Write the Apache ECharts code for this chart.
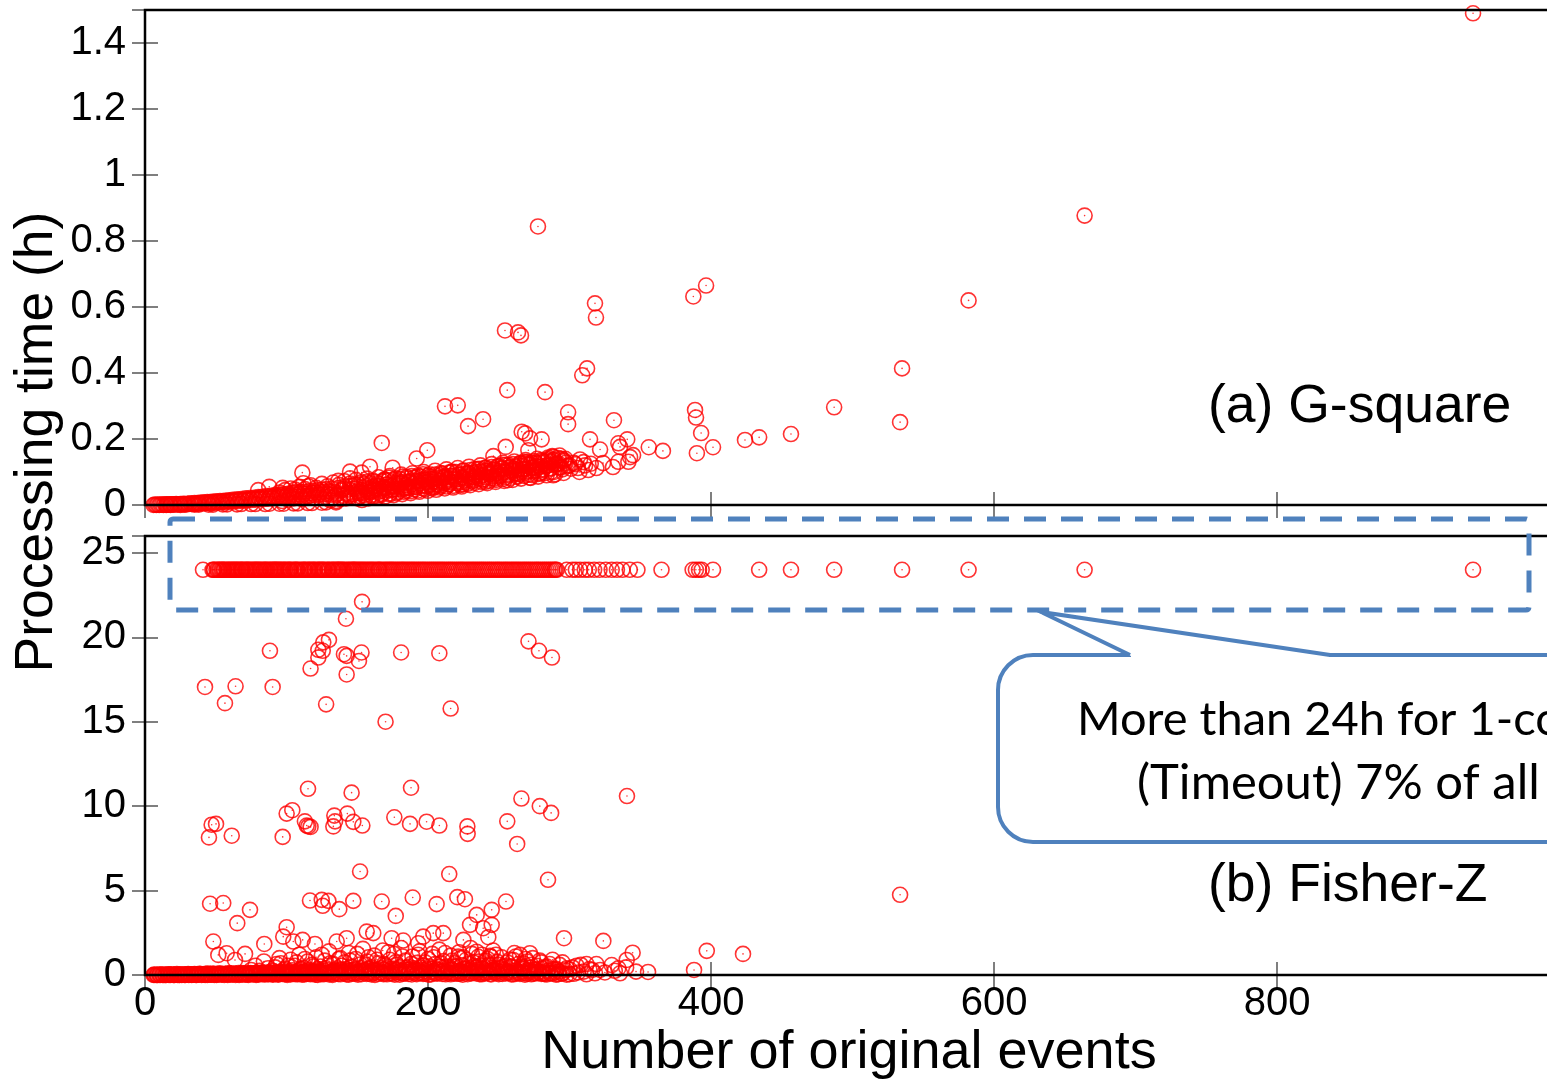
<!DOCTYPE html>
<html>
<head>
<meta charset="utf-8">
<script src="https://cdn.jsdelivr.net/npm/echarts@6/dist/echarts.min.js"></script>
<style>
html,body{margin:0;padding:0;background:#fff;}
#chart{width:1547px;height:1080px;}
</style>
</head>
<body>
<div id="chart"></div>
<script>
// ---------------- DATA ----------------
const xTicks = [0, 200, 400, 600, 800];
const gsqYTicks = [0, 0.2, 0.4, 0.6, 0.8, 1, 1.2, 1.4];
const fzYTicks = [0, 5, 10, 15, 20, 25];

// (a) G-square : processing time (h) vs number of original events
const gsqLowRow = [
[6,0],[7,0.001],[8,0],[9,0.001],[10,0],[11,0.001],[12,0.001],[13,0],[14,0.002],[15,0.001],[16,0.001],[17,0.002],[18,0.001],[19,0.002],[20,0.002],[21,0.001],[22,0.003],[23,0.002],[24,0.002],[25,0.003],[26,0.002],[27,0.004],[28,0.003],[29,0.002],[30,0.004],[31,0.003],[32,0.005],[33,0.003],[34,0.004],[35,0.006],[36,0.004],[37,0.005],[38,0.007],[39,0.004],[40,0.006],[41,0.008],[42,0.005],[43,0.007],[44,0.009],[45,0.006],[46,0.008],[47,0.01],[48,0.006],[49,0.009],[50,0.011],[51,0.007],[52,0.01],[53,0.012],[54,0.008],[55,0.011],[56,0.013],[57,0.009],[58,0.012],[59,0.014],[60,0.01],[61,0.013],[62,0.016],[63,0.011],[64,0.014],[65,0.017],[66,0.012],[67,0.015],[68,0.018],[69,0.013],[70,0.016],[71,0.02],[72,0.014],[73,0.017],[74,0.021],[75,0.015],[76,0.019],[77,0.022],[78,0.016],[79,0.02],[80,0.024],[81,0.017],[82,0.021],[83,0.025],[84,0.018],[85,0.022],[86,0.027],[87,0.019],[88,0.024],[89,0.028],[90,0.02],[91,0.025],[92,0.03],[93,0.021],[94,0.026],[95,0.031],[96,0.022],[97,0.027],[98,0.033],[99,0.023],[100,0.029],[101,0.034],[102,0.024],[103,0.03],[104,0.036],[105,0.025],[106,0.031],[107,0.037],[108,0.026],[109,0.033],[110,0.039],[111,0.027],[112,0.034],[113,0.04],[114,0.028],[115,0.035],[116,0.042],[117,0.029],[118,0.036],[119,0.043],[120,0.03],[121,0.038],[122,0.045],[123,0.031],[124,0.039],[125,0.046],[126,0.032],[127,0.04],[128,0.048],[129,0.033],[130,0.042],
[15,0],[25,0],[35,0.001],[45,0.001],[55,0.002],[65,0.002],[75,0.003],[85,0.003],[95,0.004],[105,0.005],[115,0.006],[125,0.007],[135,0.008],[18,0],[28,0.001],[38,0.001],[48,0.001],[58,0.002],[68,0.003],[78,0.003],[88,0.004],[98,0.004],[108,0.005],[118,0.006],[128,0.008]
];
const gsqBand = [
[131,0.014],[131.5,0.031],[132,0.05],[133,0.022],[134,0.04],[135,0.012],[136,0.034],[137,0.052],[138,0.018],[139,0.043],[140,0.028],[141,0.056],[142,0.02],[143,0.037],[144,0.047],[145,0.025],[146,0.058],[147,0.033],[148,0.022],[149,0.05],[150,0.041],[151,0.062],[152,0.027],[153,0.045],[154,0.036],[155,0.064],[156,0.024],[157,0.05],[158,0.04],[159,0.066],[160,0.03],[161,0.055],[162,0.045],[163,0.07],[164,0.028],[165,0.058],[166,0.048],[167,0.034],[168,0.072],[169,0.052],[170,0.04],[171,0.062],[172,0.075],[173,0.032],[174,0.056],[175,0.046],[176,0.077],[177,0.066],[178,0.036],[179,0.058],[180,0.079],[181,0.048],[182,0.068],[183,0.04],[184,0.06],[185,0.081],[186,0.052],[187,0.072],[188,0.042],[189,0.063],[190,0.083],[191,0.055],[192,0.074],[193,0.044],[194,0.066],[195,0.086],[196,0.058],[197,0.077],[198,0.047],[199,0.068],[200,0.089],[201,0.06],[202,0.08],[203,0.05],[204,0.071],[205,0.092],[206,0.063],[207,0.083],[208,0.053],[209,0.074],[210,0.095],[211,0.066],[212,0.086],[213,0.056],[214,0.077],[215,0.098],[216,0.069],[217,0.089],[218,0.058],[219,0.08],[220,0.1],[221,0.072],[222,0.092],[223,0.061],[224,0.083],[225,0.103],[226,0.075],[227,0.095],[228,0.064],[229,0.086],[230,0.106],[231,0.078],[232,0.098],[233,0.067],[234,0.089],[235,0.109],[236,0.081],[237,0.101],[238,0.07],[239,0.092],[240,0.112],[241,0.084],[242,0.104],[243,0.073],[244,0.095],[245,0.115],[246,0.087],[247,0.107],[248,0.076],[249,0.098],[250,0.118],[251,0.09],[252,0.11],[253,0.079],[254,0.101],[255,0.121],[256,0.093],[257,0.113],[258,0.082],[259,0.104],[260,0.124],[261,0.096],[262,0.116],[263,0.085],[264,0.107],[265,0.127],[266,0.099],[267,0.119],[268,0.088],[269,0.11],[270,0.13],[271,0.102],[272,0.122],[273,0.091],[274,0.113],[275,0.133],[276,0.105],[277,0.125],[278,0.094],[279,0.116],[280,0.136],[281,0.108],[282,0.128],[283,0.097],[284,0.119],[285,0.139],[286,0.111],[287,0.131],[289,0.1],[290,0.122],[292,0.142],[294,0.114]
];
const gsqBand2 = [
[95,0.038],[97,0.012],[99,0.045],[101,0.016],[103,0.05],[105,0.02],[107,0.041],[109,0.055],[111,0.018],[113,0.048],[115,0.026],[117,0.06],[119,0.022],[121,0.052],[123,0.034],[125,0.064],[127,0.025],[129,0.057],[131,0.04],[133,0.068],[135,0.03],[137,0.061],[139,0.046],[141,0.072],[143,0.033],[145,0.065],[147,0.05],[149,0.076],[151,0.036],[153,0.069],[155,0.054],[157,0.08],[159,0.04],[161,0.073],[163,0.058],[165,0.084],[167,0.043],[169,0.077],[171,0.062],[173,0.088],[175,0.047],[177,0.081],[179,0.066],[181,0.092],[183,0.05],[185,0.085],[187,0.07],[189,0.096],[191,0.054],[193,0.089],[195,0.074],[197,0.1],[199,0.057],[201,0.093],[203,0.078],[205,0.104],[207,0.06],[209,0.097],[211,0.082],[213,0.108],[215,0.064],[217,0.101],[219,0.086],[221,0.112],[223,0.068],[225,0.105],[227,0.09],[229,0.116],[231,0.072],[233,0.109],[235,0.094],[237,0.12],[239,0.076],[241,0.113],[243,0.098],[245,0.124],[247,0.08],[249,0.117],[251,0.102],[253,0.128],[255,0.084],[257,0.121],[259,0.106],[261,0.132],[263,0.088],[265,0.125],[267,0.11],[269,0.136],[271,0.092],[273,0.129],[275,0.114],[277,0.14],[279,0.096],[281,0.133],[283,0.118],[285,0.144],[287,0.1],[289,0.137],[291,0.126],[293,0.15],[295,0.108],[297,0.14],[300,0.12],[303,0.128],[306,0.112],[310,0.13],
[140.5,0.05],[144.5,0.03],[148.5,0.062],[152.5,0.04],[156.5,0.07],[160.5,0.045],[164.5,0.066],[168.5,0.05],[172.5,0.083],[176.5,0.056],[180.5,0.07],[184.5,0.05],[188.5,0.088],[192.5,0.06],[196.5,0.093],[200.5,0.072],[204.5,0.055],[208.5,0.09],[212.5,0.068],[216.5,0.1],[220.5,0.078],[224.5,0.062],[228.5,0.097],[232.5,0.084],[236.5,0.11],[240.5,0.07],[244.5,0.1],[248.5,0.088],[252.5,0.122],[256.5,0.075],[260.5,0.11],[264.5,0.094],[268.5,0.13],[272.5,0.082],[276.5,0.118],[280.5,0.1],[284.5,0.135],[288.5,0.09],[292.5,0.125]
];
const gsqBand3 = [
[150.3,0.02],[151.8,0.035],[153.3,0.015],[154.8,0.03],[156.3,0.045],[157.8,0.02],[159.3,0.038],[160.8,0.025],[162.3,0.05],[163.8,0.022],[165.3,0.04],[166.8,0.03],[168.3,0.055],[169.8,0.026],[171.3,0.045],[172.8,0.035],[174.3,0.06],[175.8,0.03],[177.3,0.048],[178.8,0.04],[180.3,0.064],[181.8,0.033],[183.3,0.052],[184.8,0.043],[186.3,0.068],[187.8,0.036],[189.3,0.056],[190.8,0.047],[192.3,0.072],[193.8,0.04],[195.3,0.06],[196.8,0.05],[198.3,0.076],[199.8,0.043],[201.3,0.064],[202.8,0.054],[204.3,0.08],[205.8,0.046],[207.3,0.068],[208.8,0.058],[210.3,0.084],[211.8,0.05],[213.3,0.072],[214.8,0.062],[216.3,0.088],[217.8,0.053],[219.3,0.076],[220.8,0.066],[222.3,0.092],[223.8,0.056],[225.3,0.08],[226.8,0.07],[228.3,0.096],[229.8,0.06],[231.3,0.084],[232.8,0.074],[234.3,0.1],[235.8,0.063],[237.3,0.088],[238.8,0.078],[240.3,0.104],[241.8,0.066],[243.3,0.092],[244.8,0.082],[246.3,0.108],[247.8,0.07],[249.3,0.096],[250.8,0.086],[252.3,0.112],[253.8,0.073],[255.3,0.1],[256.8,0.09],[258.3,0.116],[259.8,0.076],[261.3,0.104],[262.8,0.094],[264.3,0.12],[265.8,0.08],[267.3,0.108],[268.8,0.098],[270.3,0.124],[271.8,0.083],[273.3,0.112],[274.8,0.102],[276.3,0.128],[277.8,0.086],[279.3,0.116],[280.8,0.106],[282.3,0.132],[283.8,0.09],[285.3,0.12],[286.8,0.11],[288.3,0.136],[289.8,0.093],[291.3,0.124],[292.8,0.114],[294.3,0.14],[295.8,0.097],[297.3,0.128],[298.8,0.118],[301,0.11],[304,0.124],[307,0.1],[311,0.12],[315,0.125],[319,0.112]
];
const gsqOutliers = [
[938.5,1.49],[664,0.877],[277.7,0.844],[582,0.62],[396.5,0.665],[387.5,0.632],[318,0.611],[318.7,0.568],[254.4,0.529],[263.6,0.523],[265.7,0.514],[535,0.414],[312.4,0.414],[309,0.393],[256,0.348],[282.7,0.342],[487,0.296],[212,0.299],[221,0.302],[299,0.281],[299,0.245],[331.4,0.257],[238.9,0.26],[228.3,0.239],[533.6,0.251],[388.7,0.288],[389.4,0.265],[393,0.218],[424,0.197],[434,0.205],[456.5,0.215],[401.4,0.175],[390,0.157],[366,0.164],[356,0.175],[167.3,0.188],[199.5,0.166],[192,0.141],
[246.2,0.148],[287.8,0.148],[295.9,0.136],[307.4,0.138],[321.6,0.168],[335.7,0.176],[313.3,0.106],[323.7,0.127],[330.7,0.115],[342.8,0.145],[344.9,0.151],[334.5,0.187],[334.5,0.131],[341.6,0.131],[288.5,0.146],[254.9,0.176],[270.9,0.166],[266.2,0.222],[268.6,0.217],[272.1,0.202],[280.3,0.199],[314.5,0.199],[340.8,0.199],[296.1,0.133],
[111.2,0.098],[144.9,0.101],[153.1,0.098],[159,0.116],[175,0.113],[80,0.045],[87.8,0.055],[97.3,0.052],[106,0.047],[111.9,0.066],[115.4,0.057],[136.6,0.073],[144.9,0.081],[169.6,0.076],[182.1,0.086],[192,0.084],[201.4,0.086]
];

// (b) Fisher-Z : processing time (h); timeouts plotted at 24 h
const fzTimeoutHours = 24;
const fzTimeoutX = [
41,47.7,49,50.5,52.3,53,54.8,56.1,57.4,59.2,60,61.8,63.5,64.4,66,67.9,69.3,70.6,72.1,73.8,75.9,77,78.6,80.4,82.2,83.5,85.1,86.9,88.2,90,91.6,93.1,94.9,96.7,97.8,99.5,101.6,103.2,104.7,106.5,108.1,109.6,111.9,113.4,114.8,116.6,118.7,120.3,121.8,123.5,125.4,127.1,128.7,130.4,131.9,133.6,135.8,137.2,139.1,140.9,142.4,144.6,146.8,148.3,150.5,152.7,154.9,157.3,159.6,161.8,164.5,166.2,168.9,171.3,173.6,175.8,178.4,180.9,183.1,185.7,188.2,190.6,193.3,195.9,198.4,201.2,203.8,206.5,209.1,211.7,214.6,217.2,220.1,222.9,225.4,228.3,231.1,233.8,236.6,239.2,242.1,244.8,247.7,250.3,253.2,255.9,258.8,261.5,264.2,267.1,269.8,272.6,275.5,278.1,281,283.7,286.5,289.2,291,298,302,304.5,307.5,310.8,313.6,317.4,321.2,325.6,329.8,333.5,337.4,342.6,348,365,387,389.3,391.5,393.4,401.4,434,456.5,487,535,582,664,938.5
];
const fzTimeoutX2 = [
48.5,51.4,54,55.6,58.3,61,62.7,65.2,67.1,68.6,71.4,73,74.9,77.8,79.5,81.3,84.3,86,88.9,90.8,92.4,94,95.8,98.6,100.7,102.4,105.6,107.3,110.7,112.6,115.7,117.6,119.5,122.6,124.4,126.2,129.5,132.7,134.7,136.5,138.2,140,143.5,145.7,147.5,149.4,151.6,153.8,156.1,158.5,160.7,163.1,165.3,167.5,170.1,172.5,174.7,177.1,179.6,182,184.4,186.9,189.4,192,194.6,197.1,199.8,202.5,205.1,207.8,210.4,213.2,215.9,218.6,221.5,224.1,226.9,229.7,232.4,235.2,237.9,240.6,243.4,246.2,249,251.7,254.6,257.3,260.1,262.8,265.6,268.4,271.2,274,276.8,279.5,282.3,285.1,287.8,290.1
];
const fzOutliers = [
[142,21.1],[153.4,22.1],[88.3,19.2],[126,19.7],[130,19.85],[122.5,19.26],[125.6,19.2],[122.5,18.8],[117,18.15],[140.6,19.0],[142.5,18.9],[153,19.1],[151.2,18.6],[142.5,17.8],[181,19.1],[208,19.06],[271,19.76],[278.4,19.2],[287.6,18.8],[42.4,17.06],[64,17.1],[90.2,17.06],[56.5,16.1],[128,16.03],[170,15.0],[216,15.78],
[115.2,11.03],[146,10.8],[188,11.09],[266,10.45],[279,10.0],[340.6,10.6],[287,9.6],[100.1,9.56],[104.1,9.76],[113,9.1],[115.4,8.8],[117,8.77],[114.3,8.85],[133.8,9.44],[134.3,9.1],[133.1,8.8],[143,9.56],[147.2,9.07],[153.6,8.85],[176.2,9.34],[187.3,8.95],[199,9.08],[208,8.85],[227.8,8.8],[228,8.36],[256,9.1],[263,7.76],[45.2,8.15],[61.3,8.25],[97.3,8.18],[47.1,8.9],[50.2,8.95],
[152,6.13],[215,5.98],[284.8,5.64],[533.6,4.75],
[46,4.22],[55.3,4.26],[74.2,3.86],[65.2,3.07],[116.6,4.41],[124.9,4.45],[129.6,4.39],[125.6,4.1],[137.3,3.9],[147.2,4.39],[167.3,4.35],[189.2,4.59],[206.1,4.2],[220.7,4.61],[226.1,4.49],[177.2,3.5],[234.4,3.56],[229.7,2.97],[239,2.77],[242.6,2.24],[245,3.86],[245,2.97],[255.1,4.35],
[225,2.08],[100.1,2.83],[97.7,2.27],[104.8,1.98],[111.4,2.08],[120.1,1.84],[84.3,1.84],[48.3,1.98],[51.8,1.19],[57.7,1.29],[70.7,1.25],[63.6,0.89],[135.5,1.98],[142.5,2.18],[156.7,2.57],[161.3,2.48],[174.3,2.18],[182.5,2.04],[193.1,1.88],[196.6,2.27],[203.7,2.48],[210.8,2.48],[221.4,1.09],[234.4,1.38],[243.8,1.13],[296.1,2.18],[323.9,2.02],[344.6,1.32],[340.4,0.89],[312,0.65],[319,0.65],[321.6,0.3],[329.8,0.59],[334.5,0.4],[335.7,0.1],[299.9,0.34],[281.5,0.1],[265,1.19],[272,1.29],[267.4,0.69],[260.3,0.89],[270.9,0.3],[253.2,0.49],[246.2,0.3],[239.1,0.1],[222.6,0.1],[217.9,0.1],[235.5,0.3],[244.5,1.08],[235.5,1.08],[225,1.05],[397,1.43],[422.6,1.25],[388,0.3],[355.5,0.18],[290.5,0.36]
];
const fzCloud = [
[92,0.45],[96,0.7],[99,0.38],[103,0.9],[106,0.55],[109,1.2],[112,0.42],[115,0.8],[118,0.6],[121,1.05],[124,0.5],[127,0.85],[130,1.4],[133,0.65],[136,0.4],[138,1.0],[141,0.75],[144,1.3],[146,0.5],[149,0.95],[152,0.62],[154,1.55],[157,0.8],[160,0.45],[162,1.15],[165,0.7],[168,1.45],[170,0.55],[173,0.9],[176,1.25],[178,0.6],[181,1.6],[184,0.85],[186,0.48],[189,1.1],[192,0.72],[194,1.4],[197,0.55],[200,0.95],[203,1.25],[205,0.65],[208,1.5],[211,0.82],[213,0.5],[216,1.15],[219,0.7],[222,1.35],[224,0.58],[227,0.9],[230,1.6],[232,0.75],[235,0.5],[238,1.2],[241,0.85],[243,0.62],[246,1.45],[249,0.78],[252,1.05],[255,0.55],[258,0.92],[261,1.3],[264,0.65],[267,0.45],[270,0.8],[274,1.0],[277,0.55],[280,0.75],[284,0.5],[288,0.9],[293,0.6],[298,0.4],[305,0.55],[310,0.2],[316,0.3],[325,0.15],[332,0.25],[340,0.45],[347,0.2]
];
const fzCloud2 = [
[75,0.3],[78,0.55],[81,0.25],[84,0.8],[87,0.4],[90,0.25],[93,0.65],[95,1.0],[98,0.3],[101,0.55],[104,0.28],[107,0.75],[110,0.35],[113,0.95],[116,0.3],[119,0.5],[122,0.35],[125,1.2],[128,0.4],[131,0.7],[134,0.3],[137,0.95],[139,0.55],[142,0.35],[145,0.85],[148,0.3],[150,1.25],[153,0.4],[156,0.6],[158,1.05],[161,0.3],[164,0.9],[167,0.4],[169,0.65],[172,1.35],[174,0.35],[177,0.75],[180,0.45],[182,1.1],[185,0.3],[188,0.65],[190,0.4],[193,1.2],[196,0.3],[198,0.75],[201,0.5],[204,1.05],[206,0.35],[209,0.7],[212,1.3],[214,0.4],[217,0.85],[220,0.5],[223,1.0],[226,0.35],[229,0.65],[231,1.25],[234,0.45],[236,0.8],[239,0.55],[242,0.95],[245,0.4],[248,1.2],[250,0.6],[253,0.35],[256,0.75],[259,0.5],[262,1.1],[266,0.5],[269,0.95],[273,0.6],[276,0.35],[279,0.85],[283,0.45],[286,0.65],[291,0.3],[295,0.75],[302,0.45],[308,0.6],[314,0.35]
];
const fzZeroRow = [
[6,0],[7,0],[8,0.01],[9,0],[10,0.01],[11,0],[12,0.02],[13,0],[14,0.01],[15,0],[16,0.02],[17,0.01],[18,0],[19,0.02],[20,0.01],[21,0],[22,0.03],[23,0.01],[24,0],[25,0.02],[26,0.01],[27,0.03],[28,0],[29,0.02],[30,0.04],[31,0.01],[32,0.03],[33,0],[34,0.02],[35,0.05],[36,0.01],[37,0.03],[38,0.02],[39,0.06],[40,0],[41,0.04],[42,0.02],[43,0.07],[44,0.01],[45,0.03],[46,0.05],[47,0.02],[48,0.08],[49,0],[50,0.04],[51,0.06],[52,0.02],[53,0.09],[54,0.03],[55,0.05],[56,0.01],[57,0.07],[58,0.04],[59,0.1],[60,0.02],[61,0.06],[62,0.03],[63,0.08],[64,0],[65,0.05],[66,0.11],[67,0.03],[68,0.07],[69,0.02],[70,0.09],[71,0.04],[72,0.12],[73,0.01],[74,0.06],[75,0.1],[76,0.03],[77,0.08],[78,0.05],[79,0.13],[80,0.02],[81,0.07],[82,0.11],[83,0.04],[84,0.09],[85,0.06],[86,0.14],[87,0.03],[88,0.08],[89,0.12],[90,0.05],[91,0.1],[92,0.07],[93,0.15],[94,0.02],[95,0.09],[96,0.13],[97,0.06],[98,0.11],[99,0.04],[100,0.16],[101,0.08],[102,0.12],[103,0.03],[104,0.1],[105,0.14],[106,0.07],[107,0.18],[108,0.05],[109,0.11],[110,0.15],[111,0.02],[112,0.09],[113,0.2],[114,0.06],[115,0.13],[116,0.17],[117,0.04],[118,0.1],[119,0.22],[120,0.08],[121,0.14],[122,0.01],[123,0.19],[124,0.11],[125,0.05],[126,0.16],[127,0.24],[128,0.09],[129,0.13],[130,0.03],[132,0.2],[133,0.07],[134,0.15],[136,0.11],[137,0.26],[138,0.04],[140,0.17],[141,0.09],[142,0.22],[144,0.02],[145,0.13],[146,0.28],[148,0.07],[149,0.18],[150,0.11],[152,0.24],[153,0.05],[155,0.15],[156,0.3],[158,0.09],[159,0.2],[160,0.03],[162,0.14],[163,0.26],[165,0.07],[166,0.18],[168,0.11],[169,0.32],[171,0.04],[172,0.22],[174,0.13],[175,0.08],[177,0.28],[178,0.16],[180,0.02],[181,0.24],[183,0.1],[184,0.19],[186,0.06],[187,0.33],[189,0.14],[190,0.21],[192,0.05],[193,0.27],[195,0.12],[196,0.18],[198,0.08],[199,0.35],[201,0.15],[202,0.03],[204,0.23],[205,0.1],[207,0.3],[208,0.17],[210,0.06],[211,0.26],[213,0.13],[214,0.2],[216,0.04],[217,0.32],[219,0.11],[220,0.24],[222,0.08],[223,0.18],[225,0.36],[226,0.14],[228,0.05],[229,0.28],[231,0.12],[232,0.21],[234,0.09],[235,0.33],[237,0.16],[238,0.04],[240,0.25],[241,0.11],[243,0.19],[244,0.07],[246,0.3],[247,0.14],[249,0.22],[250,0.05],[252,0.17],[253,0.28],[255,0.09],[256,0.2],[258,0.13],[259,0.03],[261,0.24],[262,0.1],[264,0.16],[265,0.06],[267,0.21],[268,0.12],[270,0.08],[272,0.18],[273,0.04],[275,0.14],[277,0.1],[278,0.2],[280,0.06],[282,0.15],[284,0.03],[286,0.12],[288,0.08],[290,0.17],[292,0.05],[295,0.1],[298,0.02],[303,0.07]
];
const fzZeroRow2 = [
[6.5,0.02],[8.5,0],[10.5,0.03],[12.5,0.01],[14.5,0],[16.5,0.04],[18.5,0.02],[20.5,0],[22.5,0.05],[24.5,0.01],[26.5,0.03],[28.5,0],[30.5,0.06],[32.5,0.02],[34.5,0.04],[36.5,0],[38.5,0.07],[40.5,0.03],[42.5,0.01],[44.5,0.08],[46.5,0.02],[48.5,0.05],[50.5,0],[52.5,0.09],[54.5,0.03],[56.5,0.06],[58.5,0.01],[60.5,0.1],[62.5,0.04],[64.5,0.07],[66.5,0],[68.5,0.11],[70.5,0.05],[72.5,0.02],[74.5,0.12],[76.5,0.06],[78.5,0.01],[80.5,0.09],[82.5,0.14],[84.5,0.03],[86.5,0.08],[88.5,0.16],[90.5,0.02],[92.5,0.1],[94.5,0.05],[96.5,0.18],[98.5,0.07],[100.5,0.01],[102.5,0.2],[104.5,0.09],[106.5,0.04],[108.5,0.22],[110.5,0.12],[112.5,0.03],[114.5,0.25],[116.5,0.08],[118.5,0.15],[120.5,0.02],[122.5,0.27],[124.5,0.1],[126.5,0.05],[128.5,0.3],[130.5,0.12],[132.5,0.01],[134.5,0.22],[136.5,0.06],[138.5,0.32],[140.5,0.14],[142.5,0.03],[144.5,0.26],[146.5,0.09],[148.5,0.35],[150.5,0.02],[152.5,0.18],[154.5,0.28],[156.5,0.06],[158.5,0.38],[160.5,0.12],[162.5,0.01],[164.5,0.3],[166.5,0.15],[168.5,0.05],[170.5,0.4],[172.5,0.1],[174.5,0.24],[176.5,0.02],[178.5,0.34],[180.5,0.13],[182.5,0.07],[184.5,0.42],[186.5,0.18],[188.5,0.03],[190.5,0.3],[192.5,0.11],[194.5,0.45],[196.5,0.06],[198.5,0.22],[200.5,0.02],[202.5,0.38],[204.5,0.14],[206.5,0.08],[208.5,0.48],[210.5,0.2],[212.5,0.04],[214.5,0.33],[216.5,0.12],[218.5,0.5],[220.5,0.07],[222.5,0.25],[224.5,0.02],[226.5,0.4],[228.5,0.16],[230.5,0.09],[232.5,0.52],[234.5,0.2],[236.5,0.05],[238.5,0.36],[240.5,0.13],[242.5,0.55],[244.5,0.03],[246.5,0.24],[248.5,0.1],[250.5,0.42],[252.5,0.06],[254.5,0.3],[256.5,0.15],[258.5,0.5],[260.5,0.04],[262.5,0.27],[264.5,0.12],[266.5,0.38],[268.5,0.02],[270.5,0.22],[272.5,0.45],[274.5,0.08],[276.5,0.3],[278.5,0.14],[280.5,0.4],[282.5,0.05],[284.5,0.25],[286.5,0.1],[288.5,0.35],[290.5,0.02],[292.5,0.2],[294.5,0.08],[297,0.28],[300,0.05],[306,0.15],[312,0.04],[318,0.1]
];

const panelLabels = ['(a) G-square', '(b) Fisher-Z'];
const calloutLines = ['More than 24h for 1-core', '(Timeout) 7% of all cases'];
const yTitle = 'Processing time (h)';
const xTitle = 'Number of original events';

// ---------------- CHART ----------------
const gsqData = gsqLowRow.concat(gsqBand, gsqBand2, gsqBand3, gsqOutliers);
const fzData = fzZeroRow.concat(fzZeroRow2, fzCloud, fzCloud2, fzOutliers,
  fzTimeoutX.map(x => [x, fzTimeoutHours]), fzTimeoutX2.map(x => [x, fzTimeoutHours]));

const FONT = '"Liberation Sans", Arial, Helvetica, sans-serif';
const RED = '#ff0000';
const BLUE = '#4F81BD';

const tickStyle = {inside: true, length: 13, lineStyle: {color: '#555', width: 1.5}};
function xAx(grid, pos, labels) {
  return {
    type: 'value', gridIndex: grid, position: pos, min: 0, max: 995, interval: 200,
    axisLine: {show: false}, axisTick: tickStyle, splitLine: {show: false},
    axisLabel: labels ? {show: true, fontSize: 40, fontFamily: FONT, color: '#000', margin: 9, showMaxLabel: false,
      formatter: v => (xTicks.indexOf(v) >= 0 ? String(v) : '')} : {show: false}
  };
}
function yAx(grid, pos, min, max, interval, ticks, labels) {
  return {
    type: 'value', gridIndex: grid, position: pos, min: min, max: max, interval: interval,
    axisLine: {show: false}, axisTick: tickStyle, splitLine: {show: false},
    axisLabel: labels ? {show: true, fontSize: 40, fontFamily: FONT, color: '#000', margin: 19, showMaxLabel: false,
      formatter: v => { const t = ticks.find(k => Math.abs(k - v) < 1e-9); return t === undefined ? '' : String(t); }} : {show: false}
  };
}
function ringSeries(xi, yi, data) {
  return {type: 'scatter', xAxisIndex: xi, yAxisIndex: yi, data: data, symbol: 'circle', symbolSize: 15, silent: true,
    itemStyle: {color: 'rgba(255,255,255,0)', borderColor: RED, borderWidth: 1.6}, z: 3};
}
function dotSeries(xi, yi, data) {
  return {type: 'scatter', xAxisIndex: xi, yAxisIndex: yi, data: data, symbol: 'circle', symbolSize: 1.6, silent: true,
    itemStyle: {color: RED, opacity: 0.8}, z: 4};
}
function txt(x, y, text, font, align, rotation) {
  return {type: 'text', x: x, y: y, rotation: rotation || 0, z: 61,
    style: {text: text, font: font, fill: '#000', textAlign: align, textVerticalAlign: 'middle', align: align, verticalAlign: 'middle'}};
}

const chart = echarts.init(document.getElementById('chart'), null, {renderer: 'canvas'});
chart.setOption({
  animation: false,
  backgroundColor: '#fff',
  grid: [
    {left: 145, top: 10, width: 1408, height: 495, show: true, borderColor: '#000', borderWidth: 2.5, backgroundColor: 'rgba(0,0,0,0)', z: 5, containLabel: false, outerBoundsMode: 'none'},
    {left: 145, top: 536, width: 1408, height: 439, show: true, borderColor: '#000', borderWidth: 2.5, backgroundColor: 'rgba(0,0,0,0)', z: 5, containLabel: false, outerBoundsMode: 'none'}
  ],
  xAxis: [
    xAx(0, 'bottom', false), xAx(0, 'top', false),
    Object.assign(xAx(1, 'bottom', true), {name: xTitle, nameLocation: 'middle', nameGap: 51,
      nameTextStyle: {fontSize: 54, fontFamily: FONT, color: '#000'}}),
    xAx(1, 'top', false)
  ],
  yAxis: [
    yAx(0, 'left', 0, 1.5, 0.2, gsqYTicks, true), yAx(0, 'right', 0, 1.5, 0.2, gsqYTicks, false),
    yAx(1, 'left', 0, 26, 5, fzYTicks, true), yAx(1, 'right', 0, 26, 5, fzYTicks, false)
  ],
  series: [
    ringSeries(0, 0, gsqData), dotSeries(0, 0, gsqData),
    ringSeries(2, 2, fzData), dotSeries(2, 2, fzData)
  ],
  graphic: [
    txt(37, 442, yTitle, '53.5px ' + FONT, 'center', Math.PI / 2),
    txt(1208, 407, panelLabels[0], '53.5px ' + FONT, 'left'),
    txt(1208, 886, panelLabels[1], '53.5px ' + FONT, 'left'),
    {type: 'rect', z: 60, shape: {x: 170, y: 519, width: 1359, height: 91, r: 3},
      style: {fill: 'none', stroke: BLUE, lineWidth: 5, lineDash: [22, 15]}},
    // callout box
    {type: 'rect', z: 60, shape: {x: 998, y: 655, width: 700, height: 187, r: 35},
      style: {fill: '#fff', stroke: BLUE, lineWidth: 4}},
    {type: 'rect', z: 60, shape: {x: 1131, y: 651, width: 198, height: 8},
      style: {fill: '#fff', stroke: null}},
    {type: 'polygon', z: 60, shape: {points: [[1131, 656], [1041, 612], [1329, 656]]},
      style: {fill: '#fff', stroke: null}},
    {type: 'polyline', z: 60, shape: {points: [[1130, 655], [1041, 612], [1330, 655]]},
      style: {fill: null, stroke: BLUE, lineWidth: 4, lineJoin: 'miter'}},
    txt(1077, 720, calloutLines[0], '47px Lato, "Open Sans", sans-serif', 'left'),
    txt(1137, 783, calloutLines[1], '49px Lato, "Open Sans", sans-serif', 'left')
  ]
});
</script>
</body>
</html>
